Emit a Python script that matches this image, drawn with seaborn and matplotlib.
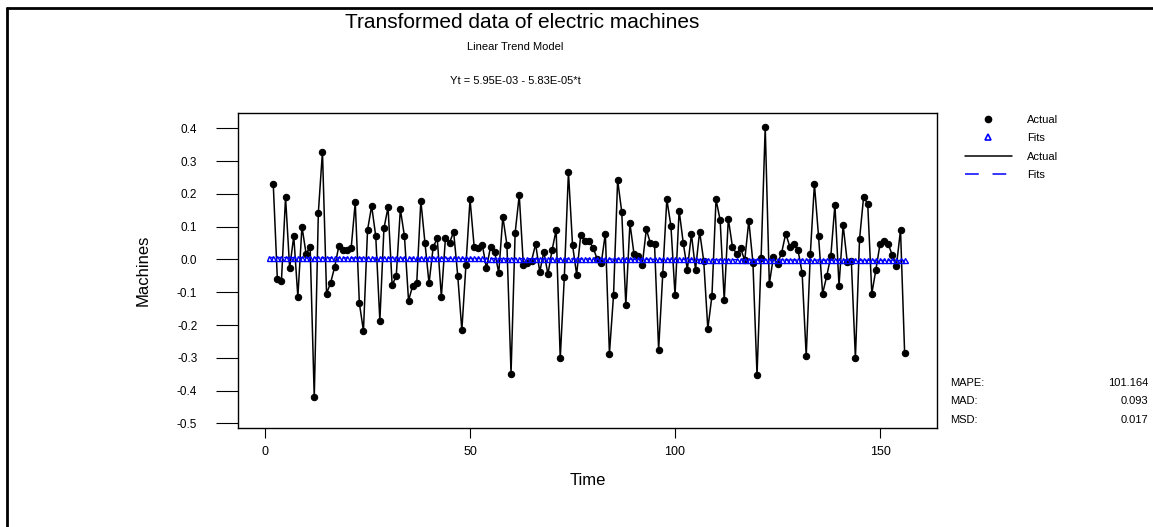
import numpy as np
import matplotlib
matplotlib.use("Agg")
import matplotlib.pyplot as plt
import seaborn as sns
from matplotlib.lines import Line2D

# transformed (differenced) series, t = 2..156
time_actual = list(range(2, 157))
actual = [
    0.230, -0.060, -0.065, 0.190, -0.027, 0.071, -0.114, 0.100, 0.018, 0.037,
    -0.421, 0.143, 0.329, -0.104, -0.071, -0.022, 0.041, 0.028, 0.030, 0.034,
    0.174, -0.133, -0.218, 0.090, 0.163, 0.071, -0.187, 0.095, 0.159, -0.078,
    -0.051, 0.153, 0.071, -0.126, -0.080, -0.071, 0.179, 0.051, -0.073, 0.037,
    0.065, -0.114, 0.065, 0.051, 0.084, -0.050, -0.216, -0.017, 0.183, 0.039,
    0.034, 0.044, -0.027, 0.039, 0.023, -0.041, 0.130, 0.044, -0.348, 0.081,
    0.196, -0.017, -0.010, -0.004, 0.047, -0.038, 0.023, -0.045, 0.028, 0.090,
    -0.302, -0.053, 0.267, 0.044, -0.046, 0.074, 0.057, 0.057, 0.036, 0.002,
    -0.012, 0.079, -0.287, -0.109, 0.242, 0.145, -0.139, 0.110, 0.016, 0.010,
    -0.017, 0.092, 0.049, 0.047, -0.275, -0.043, 0.183, 0.102, -0.109, 0.149,
    0.051, -0.031, 0.077, -0.031, 0.085, -0.005, -0.211, -0.112, 0.183, 0.120,
    -0.124, 0.124, 0.039, 0.016, 0.034, -0.003, 0.118, -0.010, -0.353, 0.005,
    0.405, -0.075, 0.008, -0.014, 0.020, 0.079, 0.039, 0.047, 0.028, -0.041,
    -0.295, 0.016, 0.230, 0.071, -0.104, -0.051, 0.010, 0.167, -0.080, 0.105,
    -0.007, -0.004, -0.302, 0.061, 0.191, 0.169, -0.104, -0.031, 0.047, 0.057,
    0.047, 0.013, -0.020, 0.090, -0.284,
]

# linear trend model printed on the chart: Yt = 5.95E-03 - 5.83E-05*t
intercept = 5.95e-3
slope = -5.83e-5
time_fits = np.arange(1, 157)
fits = intercept + slope * time_fits

stat_names = ["MAPE:", "MAD:", "MSD:"]
stat_values = ["101.164", "0.093", "0.017"]
x_ticks = [0, 50, 100, 150]
y_ticks = [0.4, 0.3, 0.2, 0.1, 0.0, -0.1, -0.2, -0.3, -0.4, -0.5]

sns.set_style("white")
plt.rcParams['font.family'] = ['Liberation Sans', 'DejaVu Sans']
plt.rcParams['text.color'] = 'black'
plt.rcParams['axes.labelcolor'] = 'black'

W, H = 1153, 527
fig = plt.figure(figsize=(W / 100, H / 100), dpi=100)
ax = fig.add_axes([238 / W, 1 - 428.3 / H, (937 - 238) / W, (428.3 - 113) / H])

sns.lineplot(x=time_actual, y=actual, ax=ax, color='black', linewidth=1.1,
             marker='o', markersize=4.6, markeredgecolor='black',
             markerfacecolor='black', zorder=2)
sns.lineplot(x=time_fits, y=fits, ax=ax, color='blue', linewidth=1,
             linestyle='--', marker='^', markersize=3.6,
             markerfacecolor='none', markeredgecolor='blue',
             markeredgewidth=1, zorder=3)

ax.set_xlim(-6.6, 163.9)
ax.set_ylim(-0.515, 0.4466)
ax.set_xticks(x_ticks)
ax.set_yticks(y_ticks)
ax.set_yticklabels([f"{v:.1f}" for v in y_ticks])
ax.tick_params(axis='y', direction='out', length=15.8, width=0.8, pad=13.5,
               labelsize=8.5, colors='black', left=True)
ax.tick_params(axis='x', direction='out', length=7.2, width=0.8, pad=5.5,
               labelsize=9, colors='black', bottom=True)
for s in ax.spines.values():
    s.set_color('black')
    s.set_linewidth(1)

ax.set_xlabel("Time", fontsize=12)
ax.set_ylabel("Machines", fontsize=12)
ax.xaxis.set_label_coords(0.5, -0.142)
ax.yaxis.set_label_coords(-0.125, 0.5)

# titles
fig.text(522 / W, 1 - 23 / H, "Transformed data of electric machines",
         fontsize=15, ha='center', va='center')
fig.text(515 / W, 1 - 47 / H, "Linear Trend Model", fontsize=8,
         ha='center', va='center')
fig.text(515 / W, 1 - 81 / H, "Yt = 5.95E-03 - 5.83E-05*t", fontsize=8,
         ha='center', va='center')

# legend
handles = [
    Line2D([], [], color='black', marker='o', markersize=4.5, linestyle='none'),
    Line2D([], [], color='blue', marker='^', markersize=4, markerfacecolor='none',
           markeredgewidth=1.2, linestyle='none'),
    Line2D([], [], color='black', linewidth=1.1),
    Line2D([], [], color='blue', linewidth=1.1, linestyle=(0, (9, 9))),
]
fig.legend(handles, ["Actual", "Fits", "Actual", "Fits"], loc='upper left',
           bbox_to_anchor=(965 / W, 1 - 115 / H), frameon=False, fontsize=8,
           handlelength=4.2, handletextpad=1.35, labelspacing=0.75,
           borderpad=0, borderaxespad=0)

# accuracy measures
for i, (name, val) in enumerate(zip(stat_names, stat_values)):
    y = 1 - (383 + 18.5 * i) / H
    fig.text(950 / W, y, name, fontsize=8, ha='left', va='center')
    fig.text(1148 / W, y, val, fontsize=8, ha='right', va='center')

# outer frame (top and left edges)
fig.add_artist(Line2D([7 / W, 1], [1 - 8 / H, 1 - 8 / H], color='black', linewidth=2))
fig.add_artist(Line2D([7 / W, 7 / W], [0, 1 - 8 / H], color='black', linewidth=2))

fig.savefig("out.png", dpi=100)
